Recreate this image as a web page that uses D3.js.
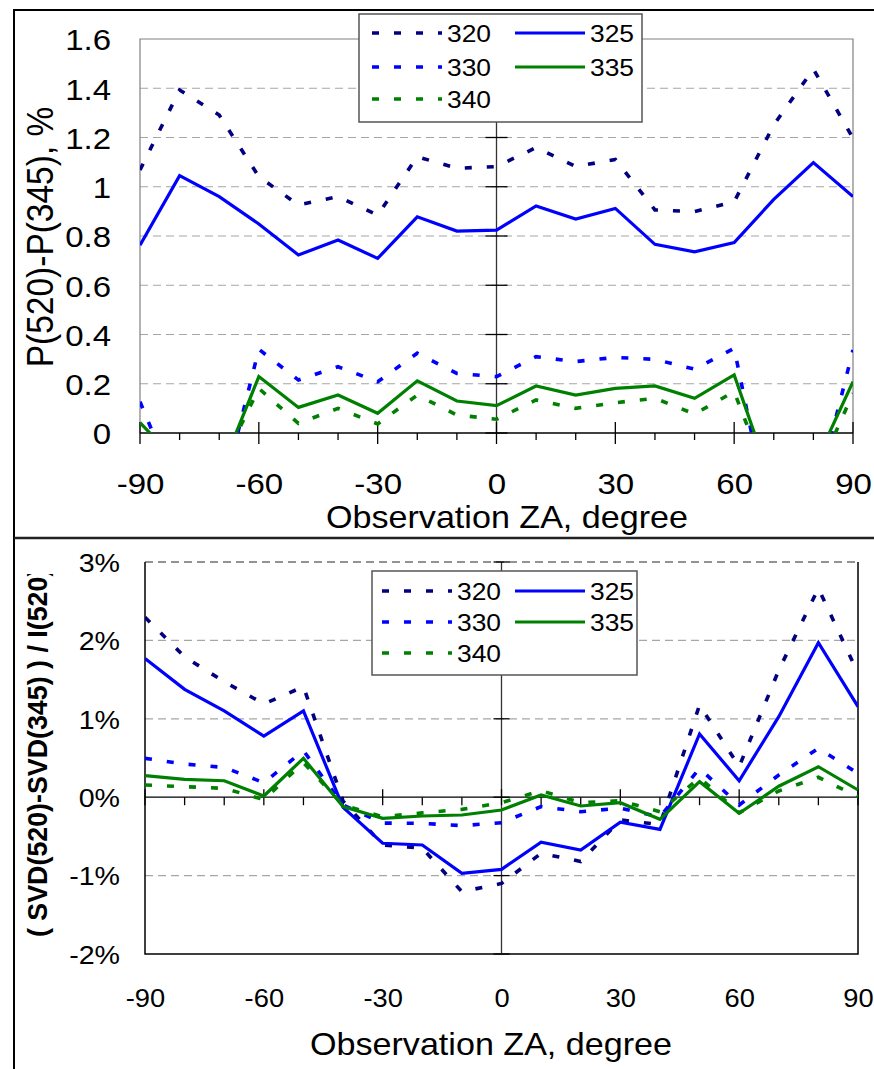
<!DOCTYPE html>
<html>
<head>
<meta charset="utf-8">
<script src="https://cdn.jsdelivr.net/npm/d3@7"></script>
<style>
  body { margin: 0; background: #fff; }
  svg { display: block; }
  text { font-family: "Liberation Sans", Arial, sans-serif; fill: #000; }
</style>
</head>
<body>
<svg id="chart" width="874" height="1069"></svg>
<script>
// Observation zenith angles (degrees)
const angles = [-90,-80,-70,-60,-50,-40,-30,-20,-10,0,10,20,30,40,50,60,70,80,90];

// Upper panel: P(520)-P(345), %
const polar320 = [1.068,1.393,1.291,1.041,0.926,0.960,0.885,1.122,1.075,1.082,1.159,1.082,1.111,0.906,0.899,0.939,1.251,1.478,1.197];
const polar325 = [0.763,1.045,0.960,0.849,0.723,0.784,0.709,0.878,0.820,0.824,0.922,0.869,0.912,0.766,0.736,0.773,0.949,1.098,0.960];
const polar330 = [0.127,-0.26,-0.30,0.340,0.215,0.269,0.208,0.324,0.242,0.229,0.310,0.290,0.307,0.299,0.259,0.344,-0.44,-0.30,0.337];
const polar335 = [0.042,-0.126,-0.169,0.229,0.104,0.154,0.080,0.212,0.130,0.111,0.191,0.154,0.181,0.191,0.141,0.236,-0.227,-0.139,0.208];
const polar340 = [-0.05,-0.30,-0.15,0.181,0.039,0.100,0.037,0.154,0.073,0.056,0.134,0.100,0.123,0.141,0.077,0.168,-0.25,-0.20,0.161];

// Lower panel: (SVD(520)-SVD(345)) / I(520), in percent
const svd320 = [2.295,1.79,1.473,1.19,1.41,-0.05,-0.61,-0.65,-1.205,-1.10,-0.716,-0.82,-0.29,-0.35,1.176,0.39,1.62,2.665,1.58];
const svd325 = [1.77,1.376,1.10,0.78,1.10,-0.13,-0.588,-0.61,-0.97,-0.92,-0.575,-0.673,-0.32,-0.41,0.806,0.21,1.027,1.97,1.155];
const svd330 = [0.496,0.423,0.38,0.185,0.593,-0.10,-0.33,-0.333,-0.363,-0.325,-0.12,-0.185,-0.14,-0.25,0.368,-0.10,0.283,0.624,0.305];
const svd335 = [0.275,0.228,0.21,0.015,0.496,-0.12,-0.27,-0.24,-0.227,-0.163,0.028,-0.112,-0.07,-0.282,0.198,-0.206,0.14,0.389,0.092];
const svd340 = [0.156,0.134,0.113,-0.03,0.44,-0.10,-0.25,-0.20,-0.155,-0.07,0.083,-0.07,-0.045,-0.185,0.25,-0.2,0.08,0.254,0.006];

// Series names and tick labels
const seriesNames = ["320","325","330","335","340"];
const xTickValues = [-90,-60,-30,0,30,60,90];
const xTickLabels = ["-90","-60","-30","0","30","60","90"];
const topYTicks = [0,0.2,0.4,0.6,0.8,1.0,1.2,1.4,1.6];
const topYLabels = ["0","0.2","0.4","0.6","0.8","1","1.2","1.4","1.6"];
const botYTicks = [-2,-1,0,1,2,3];
const botYLabels = ["-2%","-1%","0%","1%","2%","3%"];

const seriesStyle = {
  "320": { color: "#000080", dashed: true },
  "325": { color: "#0000ff", dashed: false },
  "330": { color: "#0000ff", dashed: true },
  "335": { color: "#008000", dashed: false },
  "340": { color: "#008000", dashed: true }
};

// glyphs are drawn slightly wide
const WIDE = 1.1;
const FONT = '"Liberation Sans", Arial, sans-serif';

const svg = d3.select("#chart");

// Outer frames of the two panels
svg.append("line").attr("x1", 14).attr("x2", 874).attr("y1", 10).attr("y2", 10)
  .attr("stroke", "#000").attr("stroke-width", 2);
svg.append("line").attr("x1", 14).attr("x2", 14).attr("y1", 9).attr("y2", 1069)
  .attr("stroke", "#000").attr("stroke-width", 2);
svg.append("line").attr("x1", 14).attr("x2", 874).attr("y1", 538).attr("y2", 538)
  .attr("stroke", "#222").attr("stroke-width", 2.5);

function drawPanel(cfg) {
  const g = svg.append("g");
  const x = d3.scaleLinear().domain([-90, 90]).range([cfg.left, cfg.right]);
  const y = d3.scaleLinear().domain(cfg.yDomain).range([cfg.bottom, cfg.top]);
  const clipId = "clip" + cfg.id;

  svg.append("defs").append("clipPath").attr("id", clipId)
    .append("rect").attr("x", cfg.left).attr("y", cfg.top)
    .attr("width", cfg.right - cfg.left).attr("height", cfg.bottom - cfg.top);

  // horizontal grid lines
  g.selectAll(".grid").data(cfg.gridVals).join("line")
    .attr("x1", cfg.left).attr("x2", cfg.right)
    .attr("y1", d => y(d)).attr("y2", d => y(d))
    .attr("stroke", "#a6a6a6").attr("stroke-width", 1.2)
    .attr("stroke-dasharray", "8,5");

  // plot frame
  if (cfg.id === "top") {
    g.append("path")
      .attr("d", `M${cfg.left},${y(0)}V${cfg.top}H${cfg.right}V${y(0)}`)
      .attr("fill", "none").attr("stroke", "#808080").attr("stroke-width", 1.2);
  } else {
    g.append("line").attr("x1", cfg.left).attr("x2", cfg.right)
      .attr("y1", cfg.top).attr("y2", cfg.top)
      .attr("stroke", "#707070").attr("stroke-width", 1.5).attr("stroke-dasharray", "8,5");
    g.append("path")
      .attr("d", `M${cfg.left},${cfg.top}V${cfg.bottom}H${cfg.right}V${cfg.top}`)
      .attr("fill", "none").attr("stroke", "#000").attr("stroke-width", 1.5);
  }

  // zero lines (x axis at y=0, y axis at x=0)
  const y0 = y(0), x0 = x(0);
  g.append("line").attr("x1", cfg.left).attr("x2", cfg.right).attr("y1", y0).attr("y2", y0)
    .attr("stroke", "#000").attr("stroke-width", 1.3);
  g.append("line").attr("x1", x0).attr("x2", x0).attr("y1", cfg.top).attr("y2", cfg.bottom)
    .attr("stroke", "#333").attr("stroke-width", 1.3);

  // x ticks along the zero line: minor every 10 deg, crossing ticks every 30 deg
  const xTicks = d3.range(-90, 91, 10);
  g.selectAll(".xt").data(xTicks).join("line")
    .attr("x1", d => x(d)).attr("x2", d => x(d))
    .attr("y1", d => d % 30 === 0 ? y0 - cfg.majorTick : y0)
    .attr("y2", d => y0 + (d % 30 === 0 ? cfg.majorTick : cfg.minorTick))
    .attr("stroke", "#000").attr("stroke-width", 1.3);

  // y ticks along the zero meridian
  g.selectAll(".yt").data(cfg.yTicks).join("line")
    .attr("x1", x0 - cfg.majorTick).attr("x2", x0 + cfg.majorTick)
    .attr("y1", d => y(d)).attr("y2", d => y(d))
    .attr("stroke", "#000").attr("stroke-width", 1.3);

  // left tick labels through a d3 axis
  const yAxis = d3.axisLeft(y).tickValues(cfg.yTicks)
    .tickFormat((d, i) => cfg.yLabels[i]).tickSize(0).tickPadding(0);
  const ya = g.append("g").attr("transform", `translate(${cfg.yLabelX},0)`).call(yAxis);
  ya.select(".domain").remove();
  ya.selectAll("text").attr("font-size", cfg.yFont)
    .attr("font-family", FONT).attr("fill", "#000")
    .attr("x", 0).attr("dy", "0.36em")
    .attr("transform", `scale(${WIDE},1)`);

  // bottom tick labels through a d3 axis
  const xAxis = d3.axisBottom(x).tickValues(xTickValues)
    .tickFormat((d, i) => xTickLabels[i]).tickSize(0).tickPadding(0);
  const xa = g.append("g").attr("transform", `translate(0,${cfg.xLabelY})`).call(xAxis);
  xa.select(".domain").remove();
  xa.selectAll("text").attr("font-size", cfg.xFont)
    .attr("font-family", FONT).attr("fill", "#000")
    .attr("y", 0).attr("dy", 0)
    .attr("transform", `scale(${cfg.xWide},1)`);

  // x axis title
  g.append("text")
    .attr("transform", `translate(${cfg.xTitleX},${cfg.xTitleY}) scale(${WIDE},1)`)
    .attr("text-anchor", "middle").attr("font-size", cfg.titleFont)
    .text("Observation ZA, degree");

  // series lines
  const line = d3.line().x((d, i) => x(angles[i])).y(d => y(d));
  const lines = g.append("g").attr("clip-path", `url(#${clipId})`);
  cfg.series.forEach(s => {
    const st = seriesStyle[s.name];
    lines.append("path").datum(s.values)
      .attr("d", line)
      .attr("fill", "none")
      .attr("stroke", st.color)
      .attr("stroke-width", st.dashed ? 3.6 : 3.2)
      .attr("stroke-linejoin", "miter")
      .attr("stroke-dasharray", st.dashed ? "7,15" : null);
  });

  // legend
  const lg = g.append("g");
  lg.append("rect").attr("x", cfg.legend.x).attr("y", cfg.legend.y)
    .attr("width", cfg.legend.w).attr("height", cfg.legend.h)
    .attr("fill", "#fff").attr("stroke", "#555").attr("stroke-width", 1.5);
  const order = [["320", 0, 0], ["325", 1, 0], ["330", 0, 1], ["335", 1, 1], ["340", 0, 2]];
  order.forEach(([name, col, row]) => {
    const st = seriesStyle[name];
    const lx = cfg.legend.colX[col];
    const ly = cfg.legend.rowY[row];
    lg.append("line").attr("x1", lx).attr("x2", lx + cfg.legend.sample)
      .attr("y1", ly).attr("y2", ly)
      .attr("stroke", st.color).attr("stroke-width", st.dashed ? 3.6 : 3.2)
      .attr("stroke-dasharray", st.dashed ? "7,15" : null);
    lg.append("text")
      .attr("transform", `translate(${lx + cfg.legend.sample + 5},${ly}) scale(${WIDE},1)`)
      .attr("dy", "0.36em").attr("font-size", cfg.legend.font).text(name);
  });
  return { x, y };
}

// Upper panel
drawPanel({
  id: "top", left: 140, right: 853, top: 39, bottom: 433,
  yDomain: [0, 1.6], yTicks: topYTicks, yLabels: topYLabels,
  gridVals: [0.2, 0.4, 0.6, 0.8, 1.0, 1.2, 1.4],
  majorTick: 11, minorTick: 7,
  yLabelX: 111, yFont: 30, xLabelY: 494, xFont: 29, xWide: 1.14,
  xTitleX: 507, xTitleY: 528, titleFont: 31,
  series: [
    { name: "320", values: polar320 }, { name: "325", values: polar325 },
    { name: "330", values: polar330 }, { name: "335", values: polar335 },
    { name: "340", values: polar340 }
  ],
  legend: { x: 359, y: 14, w: 283, h: 108, colX: [372, 515], rowY: [33, 67, 99], sample: 70, font: 24 }
});

// Lower panel
drawPanel({
  id: "bot", left: 145, right: 858, top: 562, bottom: 954,
  yDomain: [-2, 3], yTicks: botYTicks, yLabels: botYLabels,
  gridVals: [-1, 1, 2],
  majorTick: 8, minorTick: 8,
  yLabelX: 120, yFont: 26, xLabelY: 1007, xFont: 26, xWide: 1.05,
  xTitleX: 491, xTitleY: 1055, titleFont: 31,
  series: [
    { name: "320", values: svd320 }, { name: "325", values: svd325 },
    { name: "330", values: svd330 }, { name: "335", values: svd335 },
    { name: "340", values: svd340 }
  ],
  legend: { x: 372, y: 571, w: 265, h: 104, colX: [382, 515], rowY: [591, 622, 653], sample: 70, font: 24 }
});

// Y axis titles
svg.append("text")
  .attr("transform", `translate(53,237) scale(${WIDE},1) rotate(-90)`)
  .attr("text-anchor", "middle").attr("font-size", 33.5)
  .text("P(520)-P(345), %");

svg.append("defs").append("clipPath").attr("id", "ytitleClip")
  .append("rect").attr("x", 0).attr("y", 574).attr("width", 120).attr("height", 400);
svg.append("g").attr("clip-path", "url(#ytitleClip)")
  .append("text")
  .attr("transform", "translate(47,937) rotate(-90)")
  .attr("text-anchor", "start").attr("font-size", 26.8).attr("font-weight", "bold")
  .text("( SVD(520)-SVD(345) ) / I(520)");
</script>
</body>
</html>
